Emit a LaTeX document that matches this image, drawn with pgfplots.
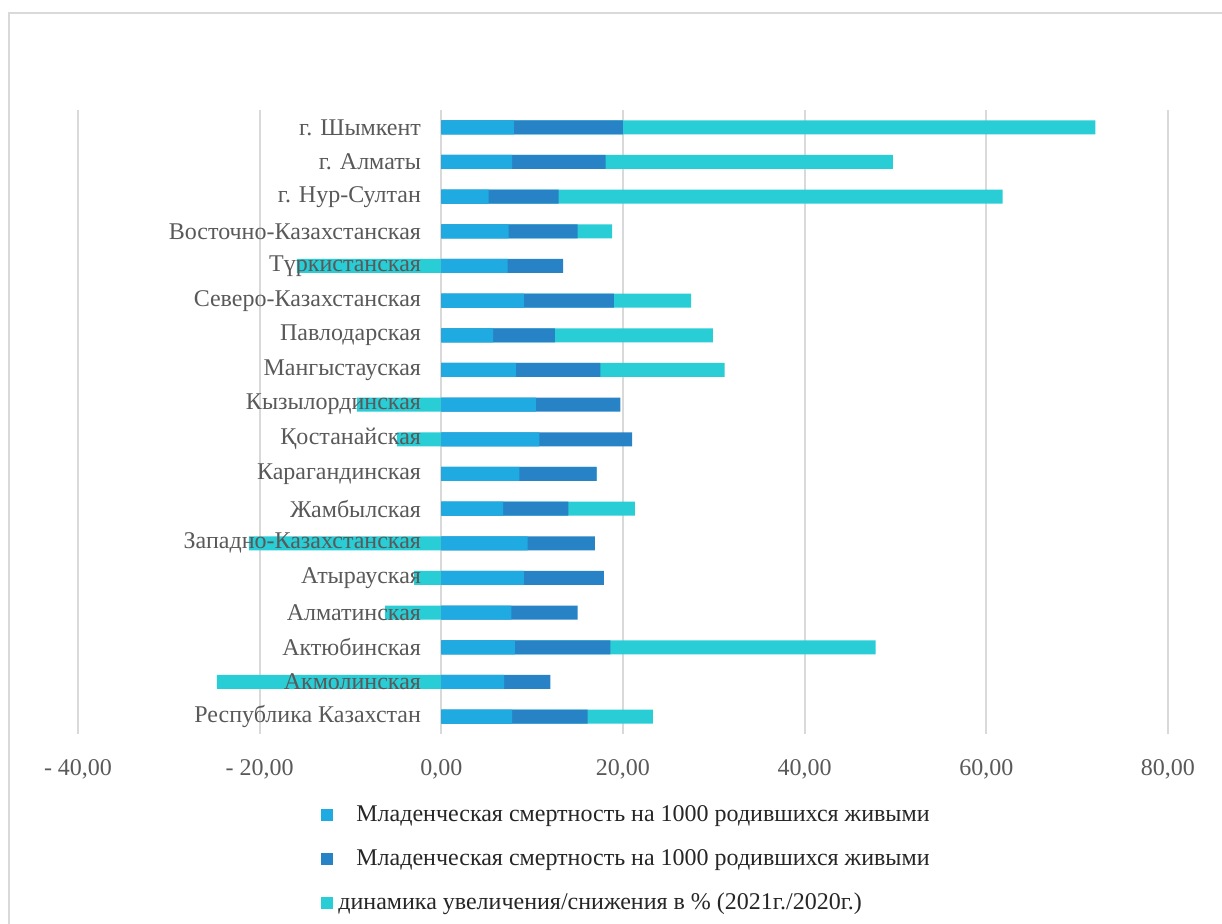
\documentclass[border=0pt]{standalone}
\usepackage{pgfplots}
\pgfplotsset{compat=1.18}
\usepackage{pgfplotstable}
\usepackage{fontspec}
\setmainfont{Liberation Serif}

\definecolor{sa}{HTML}{1FAAE1}
\definecolor{sb}{HTML}{2882C6}
\definecolor{sc}{HTML}{29CDD6}
\definecolor{gridg}{HTML}{D9D9D9}
\definecolor{txt}{HTML}{595959}
\definecolor{legtxt}{HTML}{262626}

% s1, s2 = infant mortality per 1000 live births (two years), s3 = change in %
\pgfplotstableread{
idx s1   s2   s3
0   7.8  8.3  7.2
1   6.9  5.1  -24.7
2   8.1  10.5 29.2
3   7.7  7.3  -6.2
4   9.1  8.8  -3.0
5   9.5  7.4  -21.2
6   6.8  7.2  7.3
7   8.6  8.5  0
8   10.8 10.2 -4.9
9   10.4 9.3  -9.3
10  8.2  9.3  13.7
11  5.7  6.8  17.4
12  9.1  9.9  8.5
13  7.3  6.1  -15.9
14  7.4  7.6  3.8
15  5.2  7.7  48.9
16  7.8  10.3 31.6
17  8.0  12.0 52.0
}\rates

\begin{document}
\begin{tikzpicture}
\useasboundingbox (0pt,0pt) rectangle (611pt,-462pt);
\draw[gridg, line width=1pt] (4.5pt,-6.5pt) rectangle (640pt,-490pt);
\begin{axis}[
    at={(39pt,-367pt)}, anchor=south west,
    scale only axis,
    width=545pt, height=312pt,
    xmin=-40, xmax=80,
    ymin=-0.5, ymax=17.5,
    axis line style={draw=none},
    xtick={-40,-20,0,20,40,60,80},
    xticklabels={{- 40,00},{- 20,00},{0,00},{20,00},{40,00},{60,00},{80,00}},
    ytick=\empty,
    major tick length=0pt,
    xmajorgrids,
    grid style={draw=gridg, line width=1pt},
    tick label style={text=txt, font=\fontsize{12}{14}\selectfont},
    xticklabel style={yshift=-9pt},
    legend image code/.code={\fill[#1] (0pt,-3pt) rectangle (6pt,3pt);},
    legend cell align=left,
    legend style={at={(rel axis cs:0.2229,-0.107)}, anchor=north west,
        draw=none, fill=none, inner sep=0pt, text=legtxt,
        font=\fontsize{12}{14}\selectfont, row sep=8.5pt,
        /tikz/every odd column/.append style={column sep=0.5pt}},
]
\addlegendimage{fill=sa, draw=none}
\addlegendentry{\hspace{9pt}Младенческая смертность на 1000 родившихся живыми}
\addlegendimage{fill=sb, draw=none}
\addlegendentry{\hspace{9pt}Младенческая смертность на 1000 родившихся живыми}
\addlegendimage{fill=sc, draw=none}
\addlegendentry{динамика увеличения/снижения в \% (2021г./2020г.)}

% bars overlap from 0: positive change goes after s1+s2, negative one left of 0
\addplot[forget plot, xbar, bar width=7pt, bar shift=0pt, fill=sc, draw=none]
    table[y=idx, x expr={ifthenelse(\thisrow{s3}<0, \thisrow{s3}, \thisrow{s1}+\thisrow{s2}+\thisrow{s3})}] {\rates};
\addplot[forget plot, xbar, bar width=7pt, bar shift=0pt, fill=sb, draw=none]
    table[y=idx, x expr={\thisrow{s1}+\thisrow{s2}}] {\rates};
\addplot[forget plot, xbar, bar width=7pt, bar shift=0pt, fill=sa, draw=none]
    table[y=idx, x=s1] {\rates};

\foreach \name [count=\i from 0] in {Республика Казахстан, Акмолинская, Актюбинская,
    Алматинская, Атырауская, Западно-Казахстанская, Жамбылская, Карагандинская,
    Қостанайская, Кызылординская, Мангыстауская, Павлодарская,
    Северо-Казахстанская, Түркистанская, Восточно-Казахстанская,
    г. Нур-Султан, г. Алматы, г. Шымкент} {
    \edef\temp{\noexpand\node[anchor=east, inner sep=0pt, text=txt,
        font=\noexpand\fontsize{12}{14}\noexpand\selectfont, xshift=-10pt]
        at (axis cs:0,\i) {\unexpanded\expandafter{\name}};}
    \temp
}
\end{axis}
\end{tikzpicture}
\end{document}
